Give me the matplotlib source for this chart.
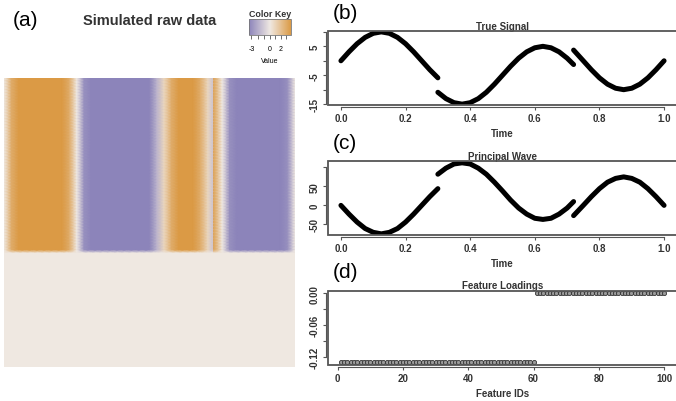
import numpy as np
import matplotlib.pyplot as plt
from matplotlib.colors import LinearSegmentedColormap, TwoSlopeNorm
from matplotlib.patches import Rectangle

# --- DATA ---
# true signal and principal wave, three pieces split at t = 0.3 and t = 0.72
time_1 = [0.0, 0.025, 0.05, 0.075, 0.1, 0.125, 0.15, 0.175, 0.2, 0.225, 0.25, 0.275, 0.3]
signal_1 = [0, 3.1, 5.9, 8.1, 9.5, 10, 9.5, 8.1, 5.9, 3.1, 0, -3.1, -5.9]
wave_1 = [0, -23, -44, -61, -71, -75, -71, -61, -44, -23, 0, 23, 44]

time_2 = [0.3, 0.325, 0.35, 0.375, 0.4, 0.425, 0.45, 0.475, 0.5, 0.525, 0.55,
          0.575, 0.6, 0.625, 0.65, 0.675, 0.7, 0.72]
signal_2 = [-10.9, -13.1, -14.5, -15, -14.5, -13.1, -10.9, -8.1, -5, -1.9, 0.9,
            3.1, 4.5, 5, 4.5, 3.1, 0.9, -1.3]
wave_2 = [82, 98, 109, 112, 109, 98, 82, 61, 38, 14, -7, -23, -34, -37, -34, -23, -7, 10]

time_3 = [0.72, 0.75, 0.775, 0.8, 0.825, 0.85, 0.875, 0.9, 0.925, 0.95, 0.975, 1.0]
signal_3 = [3.7, 0, -3.1, -5.9, -8.1, -9.5, -10, -9.5, -8.1, -5.9, -3.1, 0]
wave_3 = [-27, 0, 23, 44, 61, 71, 75, 71, 61, 44, 23, 0]

feature_ids = list(range(1, 101))
loadings = [-0.129] * 60 + [0.0] * 40

segments_signal = [(time_1, signal_1), (time_2, signal_2), (time_3, signal_3)]
segments_wave = [(time_1, wave_1), (time_2, wave_2), (time_3, wave_3)]

# --- STYLE ---
plt.rcParams['font.family'] = ['Liberation Sans', 'DejaVu Sans']
BOX = '#555555'
cmap = LinearSegmentedColormap.from_list('key', ['#8C84BA', '#EFE8E2', '#DB9A45'])
norm = TwoSlopeNorm(vcenter=0, vmin=-3.4, vmax=3.95)

W, H = 676, 402
fig = plt.figure(figsize=(W / 100, H / 100), dpi=100)


def px_axes(x0, y0, x1, y1):
    # axes from pixel box (top-left origin)
    return fig.add_axes([x0 / W, 1 - y1 / H, (x1 - x0) / W, (y1 - y0) / H])


def r_style(ax, xticks, xlabels, yticks, ylabels, title, xlabel):
    # spines first: set_position resets the ticks
    for s in ['top', 'right']:
        ax.spines[s].set_visible(False)
    for s, ticks in [('left', yticks), ('bottom', xticks)]:
        ax.spines[s].set_position(('outward', 1.7))
        ax.spines[s].set_bounds(ticks[0], ticks[-1])
        ax.spines[s].set_color(BOX)
        ax.spines[s].set_linewidth(0.8)
    ax.set_xticks(xticks)
    ax.set_xticklabels(xlabels, fontsize=7, fontweight='bold', color='#333333')
    ax.set_yticks(yticks)
    ax.set_yticklabels(ylabels, fontsize=7, fontweight='bold', rotation=90,
                       va='center', color='#333333')
    ax.add_patch(Rectangle((0, 0), 1, 1, transform=ax.transAxes, fill=False,
                           lw=1.3, ec=BOX, clip_on=False, zorder=5))
    ax.tick_params(length=2.4, width=0.8, color=BOX)
    ax.tick_params(axis='x', pad=1.5)
    ax.tick_params(axis='y', pad=2)
    ax.set_title(title, fontsize=7, fontweight='bold', pad=2, color='#333333')
    ax.set_xlabel(xlabel, fontsize=7, fontweight='bold', labelpad=4, color='#333333')


# --- (a) HEATMAP ---
ax_a = px_axes(4, 79, 295, 368)
t_all = np.concatenate([time_1, time_2, time_3])
w_all = np.concatenate([wave_1, wave_2, wave_3])
raw = np.outer(loadings, w_all)
mesh = ax_a.pcolormesh(t_all, feature_ids, raw, shading='gouraud', cmap=cmap, norm=norm)
ax_a.set_xlim(0, 1)
ax_a.set_ylim(100, 1)
ax_a.axis('off')

fig.text(13 / W, 1 - 20 / H, '(a)', fontsize=15, va='center', ha='left')
fig.text(149.5 / W, 1 - 21 / H, 'Simulated raw data', fontsize=10.5,
         fontweight='bold', va='center', ha='center', color='#333333')

# color key
ax_k = px_axes(249, 20, 291, 36)
cb = fig.colorbar(mesh, cax=ax_k, orientation='horizontal')
cb.set_ticks([-3, -2, -1, 0, 1, 2, 3])
cb.set_ticklabels(['-3', '', '', '0', '', '2', ''])
cb.outline.set_edgecolor('#777777')
cb.outline.set_linewidth(0.6)
ax_k.tick_params(length=3, width=0.6, color='#555555', labelsize=5, pad=4)
ax_k.set_title('Color Key', fontsize=6.4, fontweight='bold', pad=2.5, color='#333333')
ax_k.set_xlabel('Value', fontsize=5, labelpad=3.5)

# --- (b) TRUE SIGNAL ---
ax_b = px_axes(328, 32.3, 677, 106)
for t, y in segments_signal:
    ax_b.plot(t, y, color='black', lw=3.6, solid_capstyle='round')
ax_b.set_xlim(-0.04, 1.04)
ax_b.set_ylim(-15.3, 10.2)
r_style(ax_b, [0, 0.2, 0.4, 0.6, 0.8, 1.0], ['0.0', '0.2', '0.4', '0.6', '0.8', '1.0'],
        [-15, -10, -5, 0, 5, 10], ['-15', '', '-5', '', '5', ''], 'True Signal', 'Time')
fig.text(333 / W, 1 - 13.5 / H, '(b)', fontsize=15, va='center', ha='left')

# --- (c) PRINCIPAL WAVE ---
ax_c = px_axes(328, 162.3, 677, 236)
for t, y in segments_wave:
    ax_c.plot(t, y, color='black', lw=3.6, solid_capstyle='round')
ax_c.set_xlim(-0.04, 1.04)
ax_c.set_ylim(-78, 116)
r_style(ax_c, [0, 0.2, 0.4, 0.6, 0.8, 1.0], ['0.0', '0.2', '0.4', '0.6', '0.8', '1.0'],
        [-50, 0, 50, 100], ['-50', '0', '50', ''], 'Principal Wave', 'Time')
fig.text(333 / W, 1 - 143.5 / H, '(c)', fontsize=15, va='center', ha='left')

# --- (d) FEATURE LOADINGS ---
ax_d = px_axes(328, 291.7, 677, 366)
ax_d.plot(feature_ids, loadings, 'o', ms=3.0, mfc='#9a9a9a', mec='#333333', mew=0.6)
ax_d.set_xlim(-2.96, 103.96)
ax_d.set_ylim(-0.135, 0.0045)
r_style(ax_d, [0, 20, 40, 60, 80, 100], ['0', '20', '40', '60', '80', '100'],
        [-0.12, -0.09, -0.06, -0.03, 0.0], ['-0.12', '', '-0.06', '', '0.00'],
        'Feature Loadings', 'Feature IDs')
fig.text(333 / W, 1 - 272 / H, '(d)', fontsize=15, va='center', ha='left')

fig.savefig('out.png', dpi=100)
